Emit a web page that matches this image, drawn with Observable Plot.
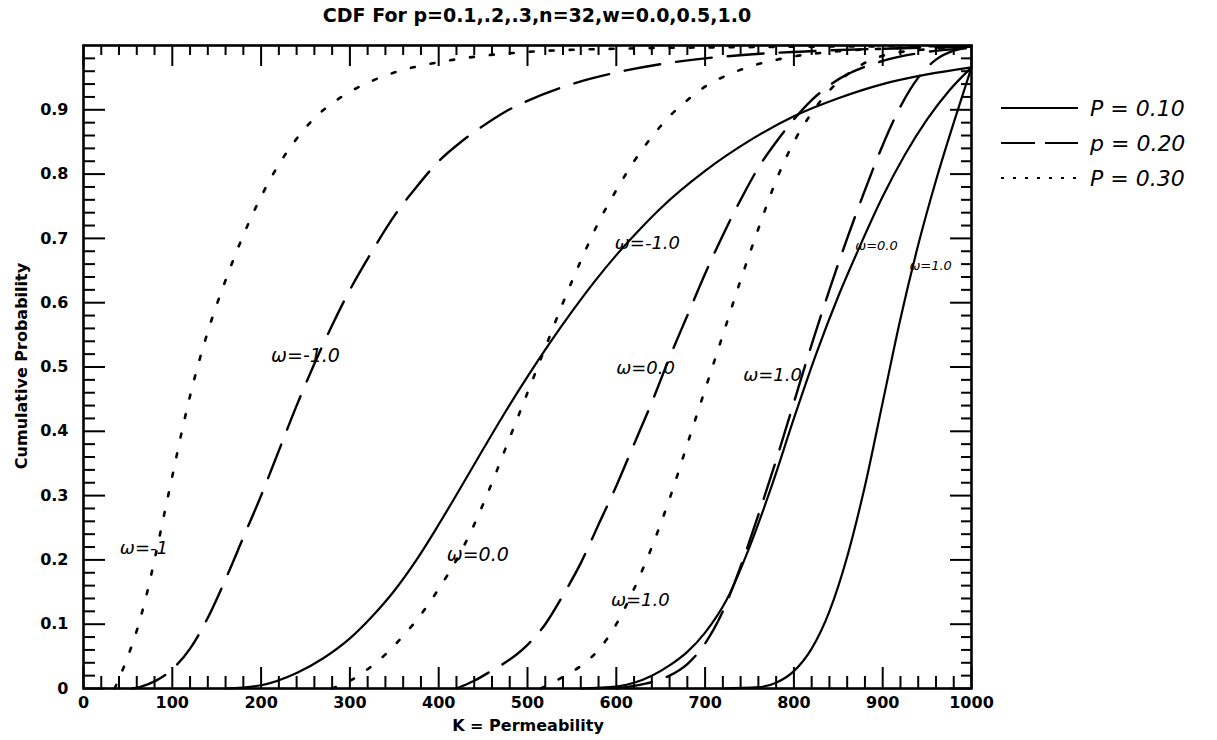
<!DOCTYPE html>
<html><head><meta charset="utf-8">
<script src="https://cdn.jsdelivr.net/npm/d3@7"></script>
<script src="https://cdn.jsdelivr.net/npm/@observablehq/plot@0.6"></script>
<style>
html,body{margin:0;padding:0;background:#fff;}
#chart{width:1217px;height:740px;}
</style></head><body><div id="chart"></div>
<script>
// ---- tick values / labels
const kMajorTicks = [0,100,200,300,400,500,600,700,800,900,1000];
const probMajorTicks = [0,0.1,0.2,0.3,0.4,0.5,0.6,0.7,0.8,0.9];
const probTickLabels = ["0","0.1","0.2","0.3","0.4","0.5","0.6","0.7","0.8","0.9"];

// ---- series: [K, cumulative probability]
// p = 0.10 (solid)
const p10_wm1 = [[160,0],[200,0.005],[240,0.024],[270,0.047],[300,0.078],[325,0.112],[350,0.152],[375,0.2],[400,0.255],[425,0.313],[450,0.372],[475,0.43],[500,0.485],[525,0.537],[550,0.586],[575,0.632],[600,0.674],[625,0.712],[650,0.747],[700,0.805],[750,0.852],[800,0.89],[850,0.918],[900,0.94],[950,0.955],[1000,0.966]];
const p10_w0 = [[560,0],[600,0.003],[620,0.009],[640,0.02],[660,0.036],[680,0.057],[700,0.087],[725,0.14],[750,0.22],[775,0.315],[800,0.42],[825,0.52],[850,0.61],[875,0.69],[900,0.765],[925,0.83],[950,0.885],[975,0.93],[1000,0.966]];
const p10_w1 = [[720,0],[760,0.002],[780,0.009],[800,0.027],[820,0.062],[840,0.12],[860,0.205],[880,0.315],[900,0.445],[920,0.575],[940,0.69],[960,0.79],[980,0.88],[1000,0.966]];
// p = 0.20 (dashed)
const p20_wm1 = [[55,0],[65,0.003],[80,0.011],[100,0.03],[120,0.062],[140,0.11],[160,0.17],[180,0.235],[200,0.3],[220,0.37],[240,0.44],[260,0.505],[280,0.565],[300,0.62],[325,0.68],[350,0.735],[375,0.78],[400,0.82],[425,0.85],[450,0.875],[475,0.897],[500,0.914],[550,0.94],[600,0.958],[650,0.971],[700,0.98],[750,0.986],[800,0.99],[900,0.995],[1000,0.998]];
const p20_w0 = [[420,0],[440,0.012],[460,0.028],[480,0.045],[500,0.068],[520,0.1],[540,0.145],[560,0.195],[580,0.255],[600,0.315],[620,0.38],[640,0.445],[660,0.515],[680,0.58],[700,0.645],[720,0.705],[740,0.76],[760,0.81],[780,0.85],[800,0.885],[820,0.915],[840,0.938],[860,0.955],[880,0.967],[900,0.976],[950,0.99],[1000,0.996]];
const p20_w1 = [[600,0],[620,0.004],[640,0.01],[660,0.02],[680,0.038],[700,0.07],[720,0.12],[740,0.19],[760,0.27],[780,0.355],[800,0.445],[820,0.535],[840,0.62],[860,0.7],[880,0.775],[900,0.845],[920,0.905],[940,0.95],[960,0.978],[980,0.992],[1000,0.997]];
// p = 0.30 (dotted)
const p30_wm1 = [[35,0],[42,0.022],[50,0.05],[60,0.09],[70,0.14],[80,0.2],[90,0.265],[100,0.33],[110,0.395],[120,0.455],[140,0.555],[160,0.635],[180,0.705],[200,0.765],[220,0.815],[240,0.855],[260,0.887],[280,0.91],[300,0.928],[325,0.945],[350,0.958],[400,0.974],[450,0.984],[500,0.99],[600,0.995],[800,0.998],[1000,0.999]];
const p30_w0 = [[280,0],[300,0.012],[320,0.03],[340,0.053],[360,0.082],[380,0.115],[400,0.155],[420,0.2],[440,0.255],[460,0.32],[480,0.39],[500,0.46],[520,0.53],[540,0.6],[560,0.665],[580,0.725],[600,0.775],[620,0.82],[640,0.858],[660,0.89],[680,0.915],[700,0.936],[725,0.954],[750,0.967],[800,0.983],[850,0.991],[900,0.995],[1000,0.998]];
const p30_w1 = [[515,0],[540,0.018],[560,0.035],[580,0.06],[600,0.1],[620,0.155],[640,0.22],[660,0.295],[680,0.38],[700,0.465],[720,0.55],[740,0.635],[760,0.715],[780,0.79],[800,0.85],[820,0.895],[840,0.93],[860,0.955],[880,0.973],[900,0.984],[950,0.994],[1000,0.997]];

// ---- hand-written curve annotations
const annoText = ["ω=-1.0","ω=-1","ω=0.0","ω=-1.0","ω=0.0","ω=1.0","ω=1.0","ω=0.0","ω=1.0"];
const annoK    = [250, 68, 444, 635, 633, 627, 776, 893, 954];
const annoProb = [0.518, 0.218, 0.207, 0.692, 0.498, 0.137, 0.487, 0.689, 0.658];
const annoSize = [19, 18, 19, 18, 18, 18, 18, 13, 13];

// ---- legend
const legendLabels = ["P = 0.10", "p = 0.20", "P = 0.30"];

// ---- build table
const seriesList = [
  ["0.10", -1, p10_wm1], ["0.10", 0, p10_w0], ["0.10", 1, p10_w1],
  ["0.20", -1, p20_wm1], ["0.20", 0, p20_w0], ["0.20", 1, p20_w1],
  ["0.30", -1, p30_wm1], ["0.30", 0, p30_w0], ["0.30", 1, p30_w1]
];
const rows = [];
for (const [p, w, pts] of seriesList) for (const [k, c] of pts) rows.push({p, w, id: p + "_" + w, k, c});
const annos = annoText.map((t, i) => ({t, k: annoK[i], c: annoProb[i], s: annoSize[i]}));

const W = 1217, H = 740, ML = 83, MR = 246, MT = 45, MB = 52;
const innerW = W - ML - MR, innerH = H - MT - MB;
const dx = 1000 / innerW, dy = 1 / innerH;
const kMinor = d3.range(20, 1000, 20).filter(v => v % 100 !== 0);
const pMinor = d3.range(1, 50).map(i => i * 0.02).filter(v => Math.abs(v * 10 - Math.round(v * 10)) > 1e-6);

const styles = {
  "0.10": {strokeWidth: 2.2},
  "0.20": {strokeWidth: 2.4, strokeDasharray: "36,16"},
  "0.30": {strokeWidth: 2.6, strokeDasharray: "4,16"}
};
const lineMarks = Object.keys(styles).map(p =>
  Plot.line(rows.filter(r => r.p === p), {x: "k", y: "c", z: "id", stroke: "black", curve: "monotone-x", ...styles[p]})
);

const plot = Plot.plot({
  width: W, height: H,
  marginLeft: ML, marginRight: MR, marginTop: MT, marginBottom: MB,
  x: {domain: [0, 1000]},
  y: {domain: [0, 1]},
  style: {fontFamily: "DejaVu Sans", fontSize: "15px", fontWeight: "bold", color: "black", background: "white"},
  marks: [
    ...lineMarks,
    // inward ticks, four sides
    Plot.ruleX(kMajorTicks, {x: d => d, y1: 0, y2: 21 * dy, stroke: "black", strokeWidth: 2}),
    Plot.ruleX(kMinor, {x: d => d, y1: 0, y2: 12 * dy, stroke: "black", strokeWidth: 2}),
    Plot.ruleX(kMajorTicks, {x: d => d, y1: 1, y2: 1 - 21 * dy, stroke: "black", strokeWidth: 2}),
    Plot.ruleX(kMinor, {x: d => d, y1: 1, y2: 1 - 10 * dy, stroke: "black", strokeWidth: 2}),
    Plot.ruleY(probMajorTicks, {y: d => d, x1: 0, x2: 22 * dx, stroke: "black", strokeWidth: 2}),
    Plot.ruleY(pMinor, {y: d => d, x1: 0, x2: 12 * dx, stroke: "black", strokeWidth: 2}),
    Plot.ruleY(probMajorTicks, {y: d => d, x1: 1000, x2: 1000 - 21 * dx, stroke: "black", strokeWidth: 2}),
    Plot.ruleY(pMinor, {y: d => d, x1: 1000, x2: 1000 - 10 * dx, stroke: "black", strokeWidth: 2}),
    Plot.frame({stroke: "black", strokeWidth: 2.6}),
    Plot.axisX({ticks: kMajorTicks, tickSize: 0, tickPadding: 8, tickFormat: d => String(d), label: null, fontSize: 16, fontWeight: "bold"}),
    Plot.axisY({ticks: probMajorTicks, tickSize: 0, tickPadding: 15, tickFormat: d => probTickLabels[probMajorTicks.indexOf(d)], label: null, fontSize: 16, fontWeight: "bold"}),
    Plot.text(annos, {x: "k", y: "c", text: "t", fontSize: d => d.s, fontStyle: "italic", fontWeight: "normal", fontFamily: "DejaVu Sans", fill: "black"})
  ]
});
document.getElementById("chart").appendChild(plot);

// titles & legend
const svg = d3.select(plot);
svg.append("text").attr("x", 537).attr("y", 22).attr("text-anchor", "middle")
  .attr("font-family", "DejaVu Sans").attr("font-weight", "bold").attr("font-size", 19)
  .text("CDF For p=0.1,.2,.3,n=32,w=0.0,0.5,1.0");
svg.append("text").attr("x", 528).attr("y", 731).attr("text-anchor", "middle")
  .attr("font-family", "DejaVu Sans").attr("font-weight", "bold").attr("font-size", 16)
  .text("K = Permeability");
svg.append("text").attr("transform", "translate(27,366) rotate(-90)").attr("text-anchor", "middle")
  .attr("font-family", "DejaVu Sans").attr("font-weight", "bold").attr("font-size", 16)
  .text("Cumulative Probability");

const legDash = ["none", "34,10", "3,9"];
const legY = [108, 143, 178];
legendLabels.forEach((lab, i) => {
  svg.append("line").attr("x1", 1001).attr("x2", 1078).attr("y1", legY[i]).attr("y2", legY[i])
    .attr("stroke", "black").attr("stroke-width", 2.2).attr("stroke-dasharray", legDash[i]);
  svg.append("text").attr("x", 1090).attr("y", legY[i] + 8).attr("text-anchor", "start")
    .attr("font-family", "DejaVu Sans").attr("font-style", "italic").attr("font-weight", "normal")
    .attr("font-size", 22).text(lab);
});
</script></body></html>
